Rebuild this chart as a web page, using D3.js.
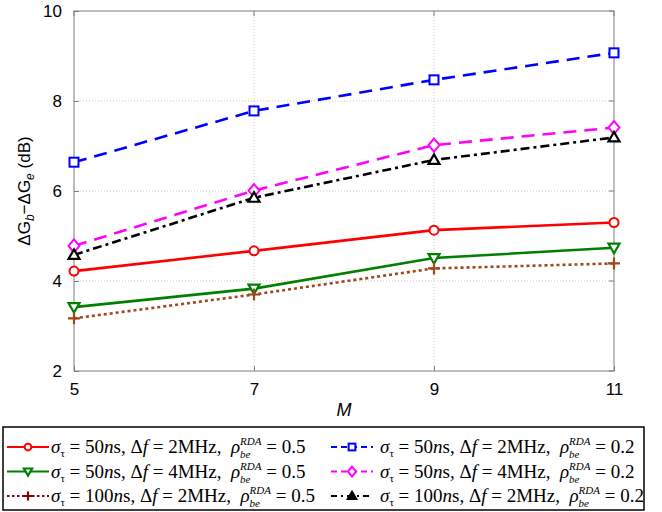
<!DOCTYPE html>
<html>
<head>
<meta charset="utf-8">
<script src="https://cdn.jsdelivr.net/npm/d3@7"></script>
<style>
  body { margin: 0; background: #fff; }
  svg { display: block; }
</style>
</head>
<body>
<div id="viz"></div>
<script>
// values
var mValues = [5, 7, 9, 11];
var red50_2_05 = [4.22, 4.67, 5.13, 5.30];
var green50_4_05 = [3.42, 3.83, 4.51, 4.74];
var brown100_2_05 = [3.17, 3.70, 4.28, 4.39];
var blue50_2_02 = [6.64, 7.78, 8.47, 9.07];
var magenta50_4_02 = [4.78, 6.01, 7.02, 7.41];
var black100_2_02 = [4.58, 5.85, 6.69, 7.19];
var xTicks = [5, 7, 9, 11];
var yTicks = [2, 4, 6, 8, 10];

var W = 662, H = 512;
var pLeft = 74, pRight = 614, pTop = 11, pBottom = 371;
var SANS = "Liberation Sans, Arial, sans-serif";
var SERIF = "Liberation Serif, Times New Roman, DejaVu Serif, serif";

var svg = d3.select("#viz").append("svg")
  .attr("width", W)
  .attr("height", H);

var x = d3.scaleLinear().domain([5, 11]).range([pLeft, pRight]);
var y = d3.scaleLinear().domain([2, 10]).range([pBottom, pTop]);

// grid
svg.append("g").selectAll("line")
  .data(xTicks.slice(1, -1)).enter().append("line")
  .attr("x1", d => x(d)).attr("x2", d => x(d))
  .attr("y1", pTop).attr("y2", pBottom)
  .attr("stroke", "#c8c8c8").attr("stroke-width", 1)
  .attr("stroke-dasharray", "1,2");
svg.append("g").selectAll("line")
  .data(yTicks.slice(1, -1)).enter().append("line")
  .attr("x1", pLeft).attr("x2", pRight)
  .attr("y1", d => y(d)).attr("y2", d => y(d))
  .attr("stroke", "#c8c8c8").attr("stroke-width", 1)
  .attr("stroke-dasharray", "1,2");

// axes box
svg.append("rect")
  .attr("x", pLeft).attr("y", pTop)
  .attr("width", pRight - pLeft).attr("height", pBottom - pTop)
  .attr("fill", "none").attr("stroke", "#7f7f7f").attr("stroke-width", 1);

var xAxis = d3.axisBottom(x).tickValues(xTicks).tickFormat(d3.format("d")).tickSize(-5).tickPadding(12);
var yAxis = d3.axisLeft(y).tickValues(yTicks).tickFormat(d3.format("d")).tickSize(-5).tickPadding(12);

var gx = svg.append("g").attr("transform", "translate(0," + pBottom + ")").call(xAxis);
var gy = svg.append("g").attr("transform", "translate(" + pLeft + ",0)").call(yAxis);
[gx, gy].forEach(function(g) {
  g.attr("font-family", SANS).attr("font-size", 17);
  g.select(".domain").remove();
  g.selectAll(".tick line").attr("stroke", "#7f7f7f");
  g.selectAll(".tick text").attr("fill", "#000");
});
// top/right ticks
svg.append("g").selectAll("line")
  .data(xTicks).enter().append("line")
  .attr("x1", d => x(d)).attr("x2", d => x(d))
  .attr("y1", pTop).attr("y2", pTop + 5).attr("stroke", "#7f7f7f");
svg.append("g").selectAll("line")
  .data(yTicks).enter().append("line")
  .attr("x1", pRight - 5).attr("x2", pRight)
  .attr("y1", d => y(d)).attr("y2", d => y(d)).attr("stroke", "#7f7f7f");

// axis labels
svg.append("text")
  .attr("font-family", SANS).attr("font-size", 18).attr("font-style", "italic")
  .attr("x", (pLeft + pRight) / 2).attr("y", 416)
  .attr("text-anchor", "middle")
  .text("M");

var yl = svg.append("text")
  .attr("font-family", SANS).attr("font-size", 17)
  .attr("transform", "translate(30," + ((pTop + pBottom) / 2) + ") rotate(-90)")
  .attr("text-anchor", "middle");
yl.append("tspan").text("ΔG");
yl.append("tspan").attr("dy", 4).attr("font-size", 12).attr("font-style", "italic").text("b");
yl.append("tspan").attr("dy", -4).text("−ΔG");
yl.append("tspan").attr("dy", 4).attr("font-size", 12).attr("font-style", "italic").text("e");
yl.append("tspan").attr("dy", -4).text(" (dB)");

// series
var series = [
  {vals: red50_2_05, color: "#ff0000", legColor: "#ff0000", dash: null, legDash: null, marker: "circle", sig: "50", df: "2", rho: "0.5"},
  {vals: green50_4_05, color: "#008000", legColor: "#008000", dash: null, legDash: null, marker: "down", sig: "50", df: "4", rho: "0.5"},
  {vals: brown100_2_05, color: "#a0461e", legColor: "#8b0000", dash: "3,3", legDash: "2.5,2.5", marker: "plus", sig: "100", df: "2", rho: "0.5"},
  {vals: blue50_2_02, color: "#0000ff", legColor: "#0000ff", dash: "13,8", legDash: "6,4", marker: "square", sig: "50", df: "2", rho: "0.2"},
  {vals: magenta50_4_02, color: "#ff00ff", legColor: "#ff00ff", dash: "13,8", legDash: "6,4", marker: "diamond", sig: "50", df: "4", rho: "0.2"},
  {vals: black100_2_02, color: "#000000", legColor: "#000000", dash: "9,4,3,4", legDash: "6,4,2,4", marker: "up", sig: "100", df: "2", rho: "0.2"}
];

var line = d3.line().x((d, i) => x(mValues[i])).y(d => y(d));

function marker(g, type, cx, cy, color, s, filled) {
  var p;
  if (type === "circle") {
    g.append("circle").attr("cx", cx).attr("cy", cy).attr("r", 4.5 * s)
      .attr("fill", "#fff").attr("stroke", color).attr("stroke-width", 2);
  } else if (type === "square") {
    g.append("rect").attr("x", cx - 4.5 * s).attr("y", cy - 4.5 * s)
      .attr("width", 9 * s).attr("height", 9 * s)
      .attr("fill", "#fff").attr("stroke", color).attr("stroke-width", 2);
  } else if (type === "diamond") {
    p = [[cx, cy - 6.5 * s], [cx + 5.5 * s, cy], [cx, cy + 6.5 * s], [cx - 5.5 * s, cy]];
    g.append("path").attr("d", "M" + p.join("L") + "Z")
      .attr("fill", "#fff").attr("stroke", color).attr("stroke-width", 2);
  } else if (type === "down") {
    p = [[cx - 5.5 * s, cy - 4 * s], [cx + 5.5 * s, cy - 4 * s], [cx, cy + 5.5 * s]];
    g.append("path").attr("d", "M" + p.join("L") + "Z")
      .attr("fill", "#fff").attr("stroke", color).attr("stroke-width", 2.2);
  } else if (type === "up") {
    p = [[cx - 5.5 * s, cy + 4 * s], [cx + 5.5 * s, cy + 4 * s], [cx, cy - 5.5 * s]];
    g.append("path").attr("d", "M" + p.join("L") + "Z")
      .attr("fill", filled ? color : "#fff").attr("stroke", color).attr("stroke-width", 2.2);
  } else if (type === "plus") {
    g.append("path")
      .attr("d", "M" + (cx - 6 * s) + "," + cy + "H" + (cx + 6 * s) + "M" + cx + "," + (cy - 6 * s) + "V" + (cy + 6 * s))
      .attr("stroke", color).attr("stroke-width", 2.2);
  }
}

var plot = svg.append("g");
series.forEach(function(s) {
  plot.append("path")
    .datum(s.vals)
    .attr("d", line)
    .attr("fill", "none")
    .attr("stroke", s.color)
    .attr("stroke-width", 2.6)
    .attr("stroke-dasharray", s.dash);
});
series.forEach(function(s) {
  s.vals.forEach(function(v, i) {
    marker(plot, s.marker, x(mValues[i]), y(v), s.color, 1, false);
  });
});

// legend
svg.append("rect")
  .attr("x", 3).attr("y", 427).attr("width", 641).attr("height", 83)
  .attr("fill", "#fff").attr("stroke", "#000").attr("stroke-width", 1.5);

var tmp = svg.append("text").attr("font-family", SERIF).attr("font-size", 11)
  .attr("font-style", "italic").text("be");
var beW = tmp.node().getComputedTextLength();
tmp.remove();

series.forEach(function(s, i) {
  var col = i < 3 ? 0 : 1;
  var row = i % 3;
  var lx = col === 0 ? 7 : 331;
  var cy = 447 + row * 24.5;
  var g = svg.append("g");
  g.append("line")
    .attr("x1", lx).attr("x2", lx + 42).attr("y1", cy).attr("y2", cy)
    .attr("stroke", s.legColor).attr("stroke-width", 2)
    .attr("stroke-dasharray", s.legDash);
  marker(g, s.marker, lx + 21, cy, s.legColor, 0.75, true);

  var t = g.append("text")
    .attr("font-family", SERIF).attr("font-size", 19)
    .attr("x", lx + (col === 0 ? 44 : 49)).attr("y", cy + 6);
  t.append("tspan").attr("font-style", "italic").text("σ");
  t.append("tspan").attr("dy", 4).attr("font-size", 11).text("τ");
  t.append("tspan").attr("dy", -4).text(" = " + s.sig);
  t.append("tspan").attr("font-style", "italic").text("n");
  t.append("tspan").text("s, Δ");
  t.append("tspan").attr("font-style", "italic").text("f");
  t.append("tspan").text(" = " + s.df + "MHz,\u00a0 ");
  t.append("tspan").attr("font-style", "italic").text("ρ");
  t.append("tspan").attr("dy", 5).attr("font-size", 11).attr("font-style", "italic").text("be");
  t.append("tspan").attr("dx", -beW).attr("dy", -13).attr("font-size", 11).attr("font-style", "italic").text("RDA");
  t.append("tspan").attr("dy", 8).text(" = " + s.rho);
});
</script>
</body>
</html>
